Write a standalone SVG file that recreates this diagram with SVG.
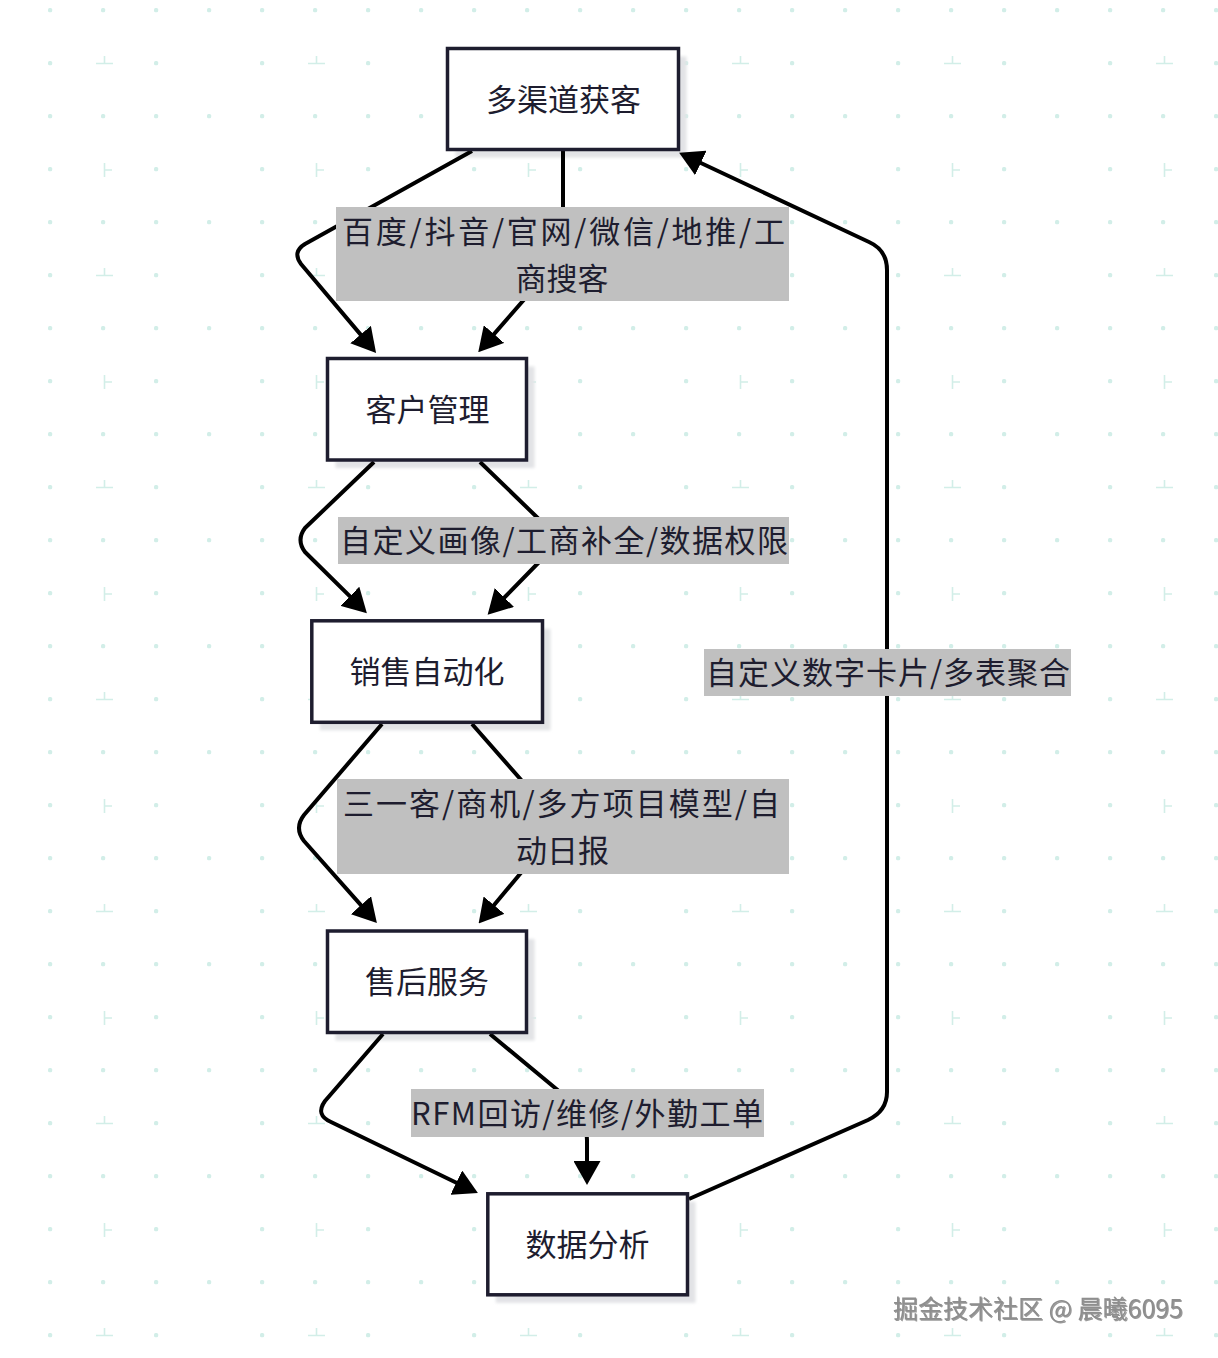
<svg xmlns="http://www.w3.org/2000/svg" width="1218" height="1358" viewBox="0 0 1218 1358">
<style>
.node rect.box{fill:#ffffff;stroke:#1e1d2f;stroke-width:3.5}
rect.sh{fill:#e2e3e6;filter:url(#blur)}
.node text{font-family:"Noto Sans CJK SC","Noto Sans",sans-serif;font-size:31px;fill:#1e1d2f;text-anchor:middle;dominant-baseline:central}
.edge{fill:none;stroke:#000;stroke-width:4;stroke-linejoin:round;marker-end:url(#arrow)}
.lbl rect{fill:#c0c0c0}
.lbl text{font-family:"Noto Sans CJK SC","Noto Sans",sans-serif;font-size:31px;fill:#1e1d2f;dominant-baseline:central}
.lbl text.c{text-anchor:middle}
.dot{fill:#d2eee8}
.cr{stroke:#d2eee8;stroke-width:1.6;fill:none}
.wm{font-family:"Noto Sans CJK SC","Noto Sans",sans-serif;font-size:25px;fill:#8e8e8e;filter:url(#wmsh)}
</style>
<defs>
<filter id="blur" x="-10%" y="-10%" width="120%" height="120%"><feGaussianBlur stdDeviation="1.5"/></filter>
<filter id="wmsh" x="-5%" y="-20%" width="110%" height="140%"><feDropShadow dx="1" dy="1" stdDeviation="0.6" flood-color="#555" flood-opacity="0.6"/></filter>
<marker id="arrow" viewBox="0 0 24 27" refX="7" refY="13.5" markerWidth="24" markerHeight="27" markerUnits="userSpaceOnUse" orient="auto">
<path d="M0,0 L24,13.5 L0,27 z" fill="#000"/>
</marker>
<pattern id="grid" width="212" height="212" patternUnits="userSpaceOnUse">
<rect class="dot" x="48" y="8" width="4.2" height="4.2" rx="1.5"/>
<rect class="dot" x="101" y="8" width="4.2" height="4.2" rx="1.5"/>
<rect class="dot" x="154" y="8" width="4.2" height="4.2" rx="1.5"/>
<rect class="dot" x="207" y="8" width="4.2" height="4.2" rx="1.5"/>
<rect class="dot" x="48" y="61" width="4.2" height="4.2" rx="1.5"/>
<rect class="dot" x="154" y="61" width="4.2" height="4.2" rx="1.5"/>
<path class="cr" d="M96,63.5 H113 M104.5,56 V63.5"/>
<rect class="dot" x="48" y="114" width="4.2" height="4.2" rx="1.5"/>
<rect class="dot" x="101" y="114" width="4.2" height="4.2" rx="1.5"/>
<rect class="dot" x="154" y="114" width="4.2" height="4.2" rx="1.5"/>
<rect class="dot" x="207" y="114" width="4.2" height="4.2" rx="1.5"/>
<rect class="dot" x="48" y="167" width="4.2" height="4.2" rx="1.5"/>
<rect class="dot" x="154" y="167" width="4.2" height="4.2" rx="1.5"/>
<path class="cr" d="M104.5,163 V177 M104.5,170 H112"/>
</pattern>
</defs>
<rect width="1218" height="1358" fill="#ffffff"/>
<rect width="1218" height="1358" fill="url(#grid)"/>

<g id="shadows">
<rect class="sh" x="455.5" y="56.5" width="231" height="101"/>
<rect class="sh" x="335.5" y="366.5" width="199" height="101.5"/>
<rect class="sh" x="319.8" y="628.8" width="230.7" height="101.5"/>
<rect class="sh" x="335.5" y="939" width="199" height="101.5"/>
<rect class="sh" x="495.8" y="1201.8" width="199.7" height="101"/>
</g>

<g id="edges">
<path id="e1" class="edge" d="M472,151 L305,244 Q292,252 301,264 L365.1,339.9"/>
<path id="e2" class="edge" d="M563,151 L563,255 L489.4,339.4"/>
<path id="e3" class="edge" d="M374,462 L305,528 Q296,540 305,552 L354.8,601.2"/>
<path id="e4" class="edge" d="M480,462 L545,525 Q552,541 545,556 L499.5,602.5"/>
<path id="e5" class="edge" d="M382,724 L304,815 Q294,828 304,841 L365.6,910.4"/>
<path id="e6" class="edge" d="M472,724 L530,790 Q545,828 530,862 L489.5,910.5"/>
<path id="e7" class="edge" d="M383,1034 L325,1101 Q315,1115 331,1122 L462.6,1185.7"/>
<path id="e8" class="edge" d="M490,1034 L560,1092 Q587,1112 587,1140 L587,1168"/>
<path id="e9" class="edge" d="M689,1199 L868,1120 Q887,1111 887,1092 L887,270 Q887,250 869,242 L694.5,160"/>
</g>

<g id="labels">
<g id="l1" class="lbl">
<rect x="336" y="207" width="453" height="94"/>
<text x="342" y="229" textLength="443" lengthAdjust="spacing">百度/抖音/官网/微信/地推/工</text>
<text class="c" x="562" y="276">商搜客</text>
</g>
<g id="l2" class="lbl">
<rect x="338" y="517" width="451" height="47"/>
<text x="340" y="538.5" textLength="448" lengthAdjust="spacing">自定义画像/工商补全/数据权限</text>
</g>
<g id="l3" class="lbl">
<rect x="337" y="779" width="452" height="95"/>
<text x="343" y="801" textLength="437" lengthAdjust="spacing">三一客/商机/多方项目模型/自</text>
<text class="c" x="562.5" y="848">动日报</text>
</g>
<g id="l4" class="lbl">
<rect x="411" y="1089" width="353" height="48"/>
<text x="411" y="1111" textLength="352" lengthAdjust="spacing">RFM回访/维修/外勤工单</text>
</g>
<g id="l5" class="lbl">
<rect x="704" y="649" width="367" height="47"/>
<text x="706" y="670.5" textLength="364" lengthAdjust="spacing">自定义数字卡片/多表聚合</text>
</g>
</g>

<g id="n1" class="node">
<rect class="box" x="447.5" y="48.5" width="231" height="101"/>
<text x="563.5" y="97">多渠道获客</text>
</g>
<g id="n2" class="node">
<rect class="box" x="327.5" y="358.5" width="199" height="101.5"/>
<text x="427.5" y="407">客户管理</text>
</g>
<g id="n3" class="node">
<rect class="box" x="311.8" y="620.8" width="230.7" height="101.5"/>
<text x="427" y="669.5">销售自动化</text>
</g>
<g id="n4" class="node">
<rect class="box" x="327.5" y="931" width="199" height="101.5"/>
<text x="427" y="979.5">售后服务</text>
</g>
<g id="n5" class="node">
<rect class="box" x="487.8" y="1193.8" width="199.7" height="101"/>
<text x="587.5" y="1242.5">数据分析</text>
</g>

<text class="wm" x="893" y="1318" textLength="290" lengthAdjust="spacing">掘金技术社区 @ 晨曦6095</text>
</svg>
